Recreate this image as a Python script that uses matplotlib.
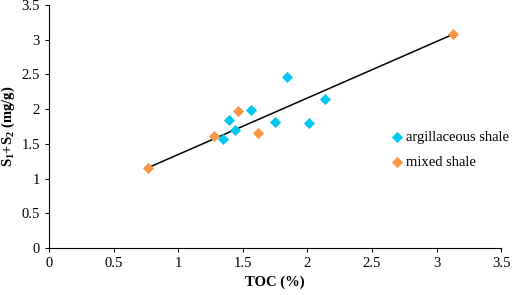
import numpy as np
import matplotlib.pyplot as plt

plt.rcParams['font.family'] = ['Liberation Serif', 'DejaVu Serif']
plt.rcParams['mathtext.fontset'] = 'custom'
plt.rcParams['mathtext.rm'] = 'Liberation Serif'
plt.rcParams['mathtext.bf'] = 'Liberation Serif:bold'

# TOC (%) and S1+S2 (mg/g)
argil_toc = [1.35, 1.39, 1.44, 1.56, 1.75, 1.84, 2.01, 2.14]
argil_s = [1.57, 1.85, 1.70, 1.99, 1.82, 2.46, 1.80, 2.15]
mixed_toc = [0.77, 1.28, 1.46, 1.62, 3.13]
mixed_s = [1.16, 1.62, 1.97, 1.66, 3.08]

fig = plt.figure(figsize=(5.12, 2.95), dpi=100)
ax = fig.add_axes([0.0957, 0.159, 0.883, 0.824])

# trend line drawn between the lowest and highest TOC samples
all_x = np.array(argil_toc + mixed_toc)
all_y = np.array(argil_s + mixed_s)
i0, i1 = all_x.argmin(), all_x.argmax()
ax.plot([all_x[i0], all_x[i1]], [all_y[i0], all_y[i1]], color='black',
        lw=1.1, zorder=1)

ax.scatter(argil_toc, argil_s, marker='D', s=32, color='#00c8f0',
           label='argillaceous shale', zorder=2, linewidths=0)
ax.scatter(mixed_toc, mixed_s, marker='D', s=32, color='#f79646',
           label='mixed shale', zorder=2, linewidths=0)

ax.set_xlim(0, 3.5)
ax.set_ylim(0, 3.5)
ax.set_xticks(np.arange(0, 3.51, 0.5))
ax.set_yticks(np.arange(0, 3.51, 0.5))
ax.set_xticklabels(['0', '0.5', '1', '1.5', '2', '2.5', '3', '3.5'])
ax.set_yticklabels(['0', '0.5', '1', '1.5', '2', '2.5', '3', '3.5'])
ax.tick_params(labelsize=10.5, direction='out', length=3, width=0.8)
for side in ['top', 'right']:
    ax.spines[side].set_visible(False)

ax.set_xlabel('TOC (%)', fontsize=10.5, fontweight='bold', labelpad=4)
ax.set_ylabel(r'$\mathbf{S_1}$+$\mathbf{S_2}$ (mg/g)', fontsize=10.5,
              fontweight='bold', labelpad=3)

ax.legend(loc='center left', bbox_to_anchor=(0.75, 0.405), frameon=False,
          fontsize=10.5, handletextpad=0.0, labelspacing=0.8,
          handlelength=1.2, borderpad=0, borderaxespad=0)

fig.savefig('out.png', dpi=100)
